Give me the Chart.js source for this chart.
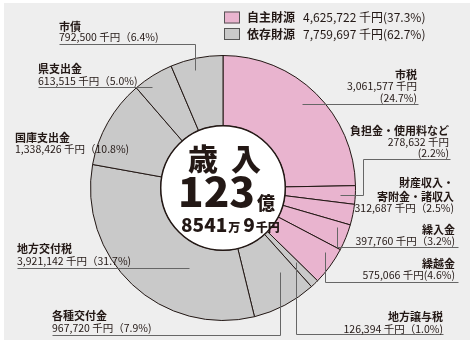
<!DOCTYPE html>
<html lang="ja">
<head>
<meta charset="utf-8">
<title>歳入</title>
<script src="https://cdn.jsdelivr.net/npm/chart.js@4.4.1/dist/chart.umd.min.js"></script>
<style>
  html, body { margin: 0; padding: 0; background: #ffffff; }
  #revenue { display: block; }
</style>
</head>
<body>
<canvas id="revenue" width="476" height="346"></canvas>
<script>
// 歳入の内訳（単位：千円）
const items = ['市税', '負担金・使用料など', '財産収入・寄附金・諸収入', '繰入金', '繰越金',
               '地方譲与税', '各種交付金', '地方交付税', '国庫支出金', '県支出金', '市債'];
const amounts = [3061577, 278632, 312687, 397760, 575066,
                 126394, 967720, 3921142, 1338426, 613515, 792500];
const shares = ['24.7%', '2.2%', '2.5%', '3.2%', '4.6%',
                '1.0%', '7.9%', '31.7%', '10.8%', '5.0%', '6.4%'];
// 0 = 自主財源, 1 = 依存財源
const sourceGroup = [0, 0, 0, 0, 0, 1, 1, 1, 1, 1, 1];
const groups = ['自主財源', '依存財源'];
const groupShares = ['37.3%', '62.7%'];

const groupColors = ['#e9b4cf', '#c9c9c9'];
const ink = '#231815';
const lineColor = '#666666';
const jp = '"Noto Sans CJK JP", "Noto Sans", sans-serif';

const fmt = n => n.toLocaleString('en-US');
const total = amounts.reduce((a, b) => a + b, 0);
const groupTotals = groups.map((g, gi) =>
    amounts.reduce((s, v, i) => s + (sourceGroup[i] === gi ? v : 0), 0));

// label layout: text lines (bold title lines, then value lines) and leader path
const labelLayout = [
    { x: 417, align: 'right', title: [75], value: [86, 98.5], split: true,
      path: [[302, 104], [418, 104]] },
    { x: 449, align: 'right', title: [131], value: [142.5, 153.5], split: true,
      path: [[340, 195], [363, 195], [363, 159], [450, 159]] },
    { x: 454, align: 'right', title: [183, 196.5], value: [208], titleLines: ['財産収入・', '寄附金・諸収入'],
      path: null },
    { x: 455, align: 'right', title: [230], value: [241],
      path: [[337, 227], [337, 247], [458, 247]] },
    { x: 455, align: 'right', title: [263.5], value: [275], tight: true,
      path: [[325, 252], [325, 282], [458, 282]] },
    { x: 443, align: 'right', title: [316.5], value: [329],
      path: [[296, 262], [296, 334], [443, 334]] },
    { x: 52, align: 'left', title: [316], value: [328],
      path: [[280, 272], [280, 335], [52, 335]] },
    { x: 17, align: 'left', title: [249], value: [261],
      path: [[17, 268], [189, 268]] },
    { x: 15, align: 'left', title: [138], value: [149],
      path: null },
    { x: 38, align: 'left', title: [69], value: [81],
      path: [[38, 87], [152, 87]] },
    { x: 59, align: 'left', title: [27], value: [37.5],
      path: [[59, 44], [195, 44], [195, 70]] }
];

const panel = {
    id: 'panel',
    beforeDraw(chart) {
        const c = chart.ctx;
        c.save();
        c.fillStyle = '#ffffff';
        c.fillRect(0, 0, chart.width, chart.height);
        c.fillStyle = '#eeeeee';
        c.fillRect(4, 3, 466, 337);
        c.restore();
    }
};

const annotations = {
    id: 'annotations',
    afterDatasetsDraw(chart) {
        const c = chart.ctx;
        const arc = chart.getDatasetMeta(0).data[0];
        c.save();

        // white centre disc
        c.beginPath();
        c.arc(arc.x, arc.y, arc.innerRadius, 0, Math.PI * 2);
        c.fillStyle = '#ffffff';
        c.fill();
        c.lineWidth = 1.5;
        c.strokeStyle = ink;
        c.stroke();

        // centre title
        c.fillStyle = ink;
        c.textBaseline = 'alphabetic';
        c.textAlign = 'center';
        c.font = `900 30px ${jp}`;
        c.fillText('歳', 203, 170);
        c.fillText('入', 246, 170);

        const oku = Math.floor(total / 100000);
        const man = Math.floor((total % 100000) / 10);
        const sen = total % 10;
        c.save();
        c.font = `900 40px ${jp}`;
        const bigW = c.measureText(String(oku)).width;
        c.translate(178, 207);
        c.scale(77 / bigW, 1);
        c.textAlign = 'left';
        c.fillText(String(oku), 0, 0);
        c.restore();
        c.textAlign = 'left';
        c.font = `900 18px ${jp}`;
        c.fillText('億', 257, 210);

        let x = 181;
        const parts = [[String(man), 19], ['万', 12], [String(sen), 19], ['千円', 12]];
        parts.forEach(([t, size], i) => {
            c.font = `900 ${size}px ${jp}`;
            c.fillText(t, x, 232);
            x += c.measureText(t).width + (i === 1 ? 3 : 1);
        });

        // leader lines
        c.strokeStyle = lineColor;
        c.lineWidth = 1;
        labelLayout.forEach(l => {
            if (!l.path) return;
            c.beginPath();
            l.path.forEach(([px, py], i) => {
                if (i === 0) c.moveTo(px + 0.5, py + 0.5);
                else c.lineTo(px + 0.5, py + 0.5);
            });
            c.stroke();
        });

        // slice labels
        c.fillStyle = ink;
        c.textBaseline = 'middle';
        labelLayout.forEach((l, i) => {
            c.textAlign = l.align;
            c.font = `bold 11px ${jp}`;
            const titles = l.titleLines || [items[i]];
            titles.forEach((t, k) => c.fillText(t, l.x, l.title[k]));
            c.font = `10.5px ${jp}`;
            const amt = `${fmt(amounts[i])} 千円`;
            if (l.split) {
                c.fillText(amt, l.x, l.value[0]);
                c.fillText(`(${shares[i]})`, l.x, l.value[1]);
            } else if (l.tight) {
                c.fillText(`${amt}(${shares[i]})`, l.x, l.value[0]);
            } else {
                c.fillText(`${amt}（${shares[i]})`, l.x, l.value[0]);
            }
        });

        // group legend
        groups.forEach((g, gi) => {
            const cy = 17.5 + gi * 16.5;
            c.fillStyle = groupColors[gi];
            c.fillRect(224, cy - 6, 16, 12);
            c.strokeStyle = '#555555';
            c.lineWidth = 1;
            c.strokeRect(224.5, cy - 5.5, 15, 11);
            c.fillStyle = ink;
            c.textAlign = 'left';
            c.font = `bold 12px ${jp}`;
            c.fillText(g, 247, cy);
            c.font = `12px ${jp}`;
            c.fillText(`${fmt(groupTotals[gi])} 千円(${groupShares[gi]})`, 303, cy);
        });

        c.restore();
    }
};

new Chart(document.getElementById('revenue'), {
    type: 'doughnut',
    data: {
        labels: items,
        datasets: [{
            data: amounts,
            backgroundColor: sourceGroup.map(g => groupColors[g]),
            borderColor: ink,
            borderWidth: 1,
            borderJoinStyle: 'miter'
        }]
    },
    options: {
        responsive: false,
        animation: false,
        cutout: '47%',
        rotation: 0,
        layout: {
            padding: { left: 90, right: 120, top: 55, bottom: 25 }
        },
        plugins: {
            legend: { display: false },
            tooltip: { enabled: false }
        }
    },
    plugins: [panel, annotations]
});
</script>
</body>
</html>
